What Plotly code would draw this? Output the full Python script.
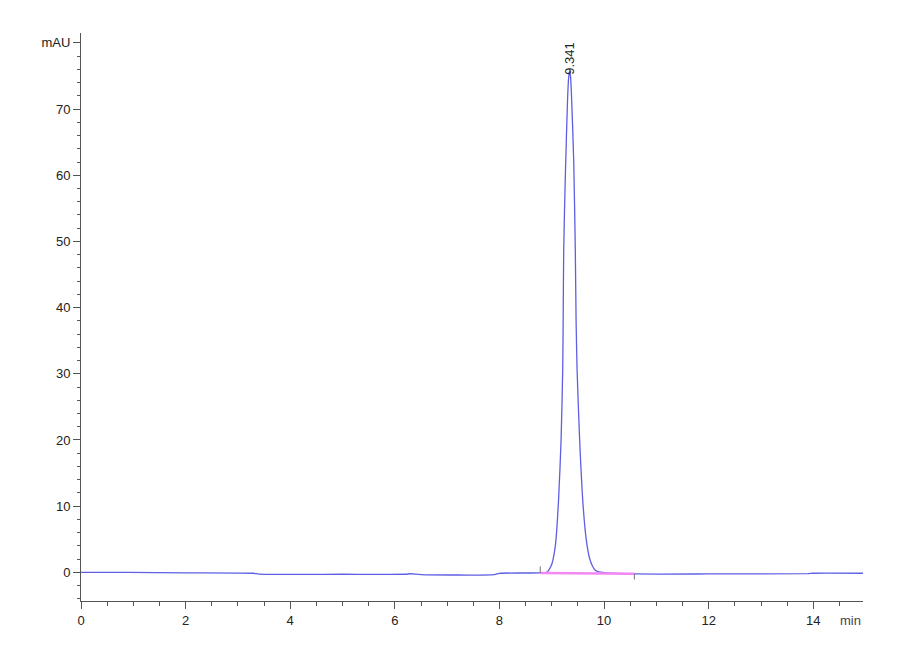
import plotly.graph_objects as go

# chromatogram trace (min, mAU)
time_min = [0.0, 0.9, 2.0, 3.3, 3.4, 5.0, 6.2, 6.3, 6.5, 7.9, 8.0, 8.78,
            8.90, 8.94, 9.00, 9.05, 9.08, 9.13, 9.178, 9.209, 9.218, 9.228,
            9.26, 9.30, 9.32, 9.341, 9.36, 9.38, 9.42, 9.45, 9.465, 9.484, 9.533, 9.60,
            9.66, 9.72, 9.78, 9.83, 9.90, 10.0, 10.6, 12.0, 13.9, 14.0, 14.95]
signal_mau = [0.0, -0.02, -0.08, -0.15, -0.28, -0.3, -0.3, -0.22, -0.35, -0.35, -0.15, -0.1,
              0.0, 0.3, 1.2, 3.0, 4.9, 11.0, 20.0, 30.6, 38.0, 48.7,
              60.0, 71.0, 74.5, 75.8, 74.8, 71.5, 62.0, 48.7, 38.0, 30.6, 20.0, 10.0,
              4.9, 2.2, 0.9, 0.3, 0.05, -0.05, -0.25, -0.25, -0.2, -0.15, -0.15]

# integration baseline and its start / end marks
base_time = [8.78, 10.58]
base_mau = [-0.12, -0.22]
mark_time = [8.78, 10.58]
mark_top = [0.9, -0.22]
mark_bottom = [-0.12, -1.1]

peak_time = 9.341
peak_height = 75.8
peak_label = "9.341"

x_ticks = [0, 2, 4, 6, 8, 10, 12, 14]
y_ticks = [0, 10, 20, 30, 40, 50, 60, 70, 80]
y_labels = ["0", "10", "20", "30", "40", "50", "60", "70", "mAU"]

font_name = "Liberation Sans Narrow, Arial Narrow, Liberation Sans, sans-serif"
axis_col = "#555555"

fig = go.Figure()

fig.add_trace(go.Scatter(
    x=time_min, y=signal_mau, mode="lines",
    line=dict(color="rgb(95,95,228)", width=1.3, shape="spline", smoothing=0.6),
    hoverinfo="skip"
))

fig.add_trace(go.Scatter(
    x=base_time, y=base_mau, mode="lines",
    line=dict(color="rgb(244,135,244)", width=2.5),
    hoverinfo="skip"
))

for t, lo, hi in zip(mark_time, mark_bottom, mark_top):
    fig.add_trace(go.Scatter(
        x=[t, t], y=[lo, hi], mode="lines",
        line=dict(color="#777777", width=1),
        hoverinfo="skip"
    ))

# peak retention time, written upwards over the apex
fig.add_annotation(
    x=peak_time, y=peak_height, text=peak_label, textangle=-90,
    showarrow=False, xanchor="center", yanchor="bottom", yshift=-6,
    font=dict(family=font_name, size=13, color="#222222")
)

fig.add_annotation(
    x=1, xref="paper", y=-4.34, yref="y", text="min",
    showarrow=False, xanchor="right", yanchor="top", yshift=-10,
    font=dict(family=font_name, size=13, color="#444444")
)

# page body adds 8px, so margins are shifted to compensate
fig.update_layout(
    width=900, height=660,
    margin=dict(l=73, r=45, t=25, b=67),
    plot_bgcolor="white", paper_bgcolor="white",
    showlegend=False,
    font=dict(family=font_name, size=13, color="#222222")
)

fig.update_xaxes(
    range=[0, 14.95], showgrid=False, zeroline=False,
    showline=True, linecolor=axis_col, linewidth=1,
    tickmode="array", tickvals=x_ticks,
    ticks="outside", ticklen=7, tickcolor=axis_col,
    minor=dict(dtick=0.5, ticks="outside", ticklen=4, tickcolor=axis_col),
)
fig.update_yaxes(
    range=[-4.34, 81.5], showgrid=False, zeroline=False,
    showline=True, linecolor=axis_col, linewidth=1,
    tickmode="array", tickvals=y_ticks, ticktext=y_labels,
    ticks="outside", ticklen=7, tickcolor=axis_col,
    minor=dict(dtick=2, ticks="outside", ticklen=3, tickcolor=axis_col),
)

fig.write_html("out.html")
